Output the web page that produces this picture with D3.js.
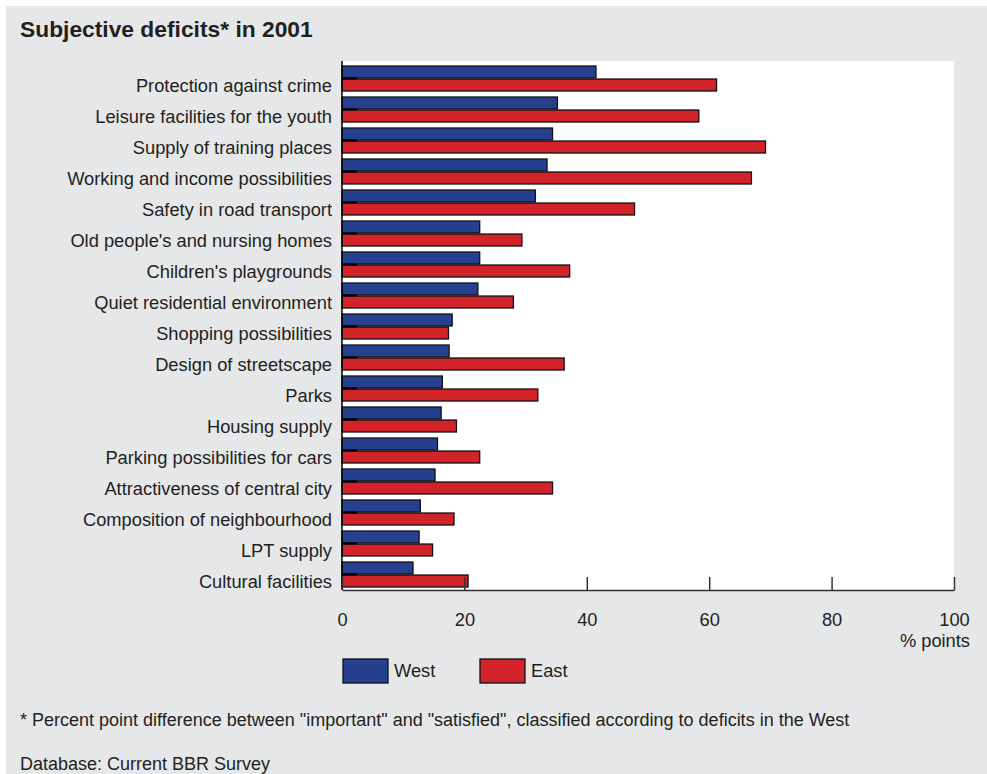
<!DOCTYPE html>
<html>
<head>
<meta charset="utf-8">
<script src="https://cdn.jsdelivr.net/npm/d3@7"></script>
<style>
  html, body { margin: 0; padding: 0; background: #fff; }
  svg { display: block; font-family: "Liberation Sans", Arial, sans-serif; }
</style>
</head>
<body>
<svg id="chart" width="987" height="774"></svg>
<script>
// categories, sorted by deficit in the West
const categories = [
  'Protection against crime',
  'Leisure facilities for the youth',
  'Supply of training places',
  'Working and income possibilities',
  'Safety in road transport',
  "Old people's and nursing homes",
  "Children's playgrounds",
  'Quiet residential environment',
  'Shopping possibilities',
  'Design of streetscape',
  'Parks',
  'Housing supply',
  'Parking possibilities for cars',
  'Attractiveness of central city',
  'Composition of neighbourhood',
  'LPT supply',
  'Cultural facilities'
];
const west = [41.5, 35.2, 34.4, 33.5, 31.6, 22.5, 22.5, 22.2, 18.0, 17.5, 16.4, 16.2, 15.6, 15.2, 12.8, 12.6, 11.6];
const east = [61.2, 58.3, 69.2, 66.9, 47.8, 29.4, 37.2, 28.0, 17.4, 36.3, 32.0, 18.7, 22.5, 34.4, 18.3, 14.8, 20.6];
const series = ['West', 'East'];
const xTicks = [0, 20, 40, 60, 80, 100];

const colors = { West: '#25408f', East: '#d2232a' };
const ink = '#231f20';

const svg = d3.select('#chart');

// grey panel
svg.append('rect').attr('x', 6).attr('y', 6).attr('width', 981).attr('height', 768).attr('fill', '#e6e7e8');

const plot = { left: 342, right: 954, top: 61, bottom: 590 };

svg.append('rect')
  .attr('x', plot.left).attr('y', plot.top)
  .attr('width', plot.right - plot.left).attr('height', plot.bottom - plot.top)
  .attr('fill', '#fff');

const x = d3.scaleLinear().domain([0, 100]).range([plot.left, plot.right]);
const y = d3.scaleBand().domain(categories).range([62.5, 589.5]);
const ySub = d3.scaleBand().domain(series).range([3.5, 28.5]).paddingInner(0.08);

const rows = categories.map((c, i) => ({ cat: c, West: west[i], East: east[i] }));

// bars
const groups = svg.append('g').selectAll('g')
  .data(rows)
  .join('g')
  .attr('transform', d => `translate(0,${y(d.cat)})`);

groups.selectAll('rect')
  .data(d => series.map(s => ({ key: s, value: d[s] })))
  .join('rect')
  .attr('x', x(0))
  .attr('y', d => ySub(d.key))
  .attr('width', d => x(d.value) - x(0))
  .attr('height', ySub.bandwidth())
  .attr('fill', d => colors[d.key])
  .attr('stroke', '#111')
  .attr('stroke-width', 1.3);

// category labels
svg.append('g').selectAll('text')
  .data(categories)
  .join('text')
  .attr('x', 332)
  .attr('y', d => y(d) + 23)
  .attr('dy', '0.35em')
  .attr('text-anchor', 'end')
  .attr('font-size', 18.3)
  .attr('fill', ink)
  .text(d => d);

// left axis with inward category ticks
const yAxis = svg.append('g')
  .attr('transform', `translate(${plot.left},0)`)
  .call(d3.axisLeft(y).tickSize(-15).tickFormat(''));
yAxis.select('.domain').remove();
yAxis.selectAll('.tick line').attr('stroke', '#000').attr('stroke-width', 2).attr('transform', 'translate(0,0.5)');
svg.append('line')
  .attr('x1', plot.left).attr('x2', plot.left)
  .attr('y1', plot.top).attr('y2', plot.bottom)
  .attr('stroke', '#000').attr('stroke-width', 1.5);

// bottom axis, ticks pointing up
const xAxis = svg.append('g')
  .attr('transform', `translate(0,${plot.bottom})`)
  .call(d3.axisBottom(x).tickValues(xTicks).tickSizeInner(-13).tickSizeOuter(0).tickPadding(23));
xAxis.select('.domain').attr('stroke', '#333').attr('stroke-width', 1.5);
xAxis.selectAll('.tick line').attr('stroke', '#333').attr('stroke-width', 1.5);
xAxis.selectAll('.tick text')
  .attr('font-size', 18.3).attr('font-family', '"Liberation Sans", Arial, sans-serif').attr('fill', ink);

svg.append('text')
  .attr('x', 970).attr('y', 647)
  .attr('text-anchor', 'end')
  .attr('font-size', 18.3).attr('fill', ink)
  .text('% points');

// title
svg.append('text')
  .attr('x', 20).attr('y', 37)
  .attr('font-size', 22.8).attr('font-weight', 'bold').attr('fill', ink)
  .text('Subjective deficits* in 2001');

// legend
const legend = svg.append('g').selectAll('g')
  .data(series)
  .join('g')
  .attr('transform', (d, i) => `translate(${343 + i * 137},659)`);
legend.append('rect')
  .attr('width', 45).attr('height', 24)
  .attr('fill', d => colors[d])
  .attr('stroke', '#111').attr('stroke-width', 1.3);
legend.append('text')
  .attr('x', 51).attr('y', 12).attr('dy', '0.35em')
  .attr('font-size', 18.3).attr('fill', ink)
  .text(d => d);

// notes
svg.append('text')
  .attr('x', 20).attr('y', 726)
  .attr('font-size', 18).attr('fill', ink)
  .text('* Percent point difference between "important" and "satisfied", classified according to deficits in the West');
svg.append('text')
  .attr('x', 20).attr('y', 770)
  .attr('font-size', 18).attr('fill', ink)
  .text('Database: Current BBR Survey');
</script>
</body>
</html>
